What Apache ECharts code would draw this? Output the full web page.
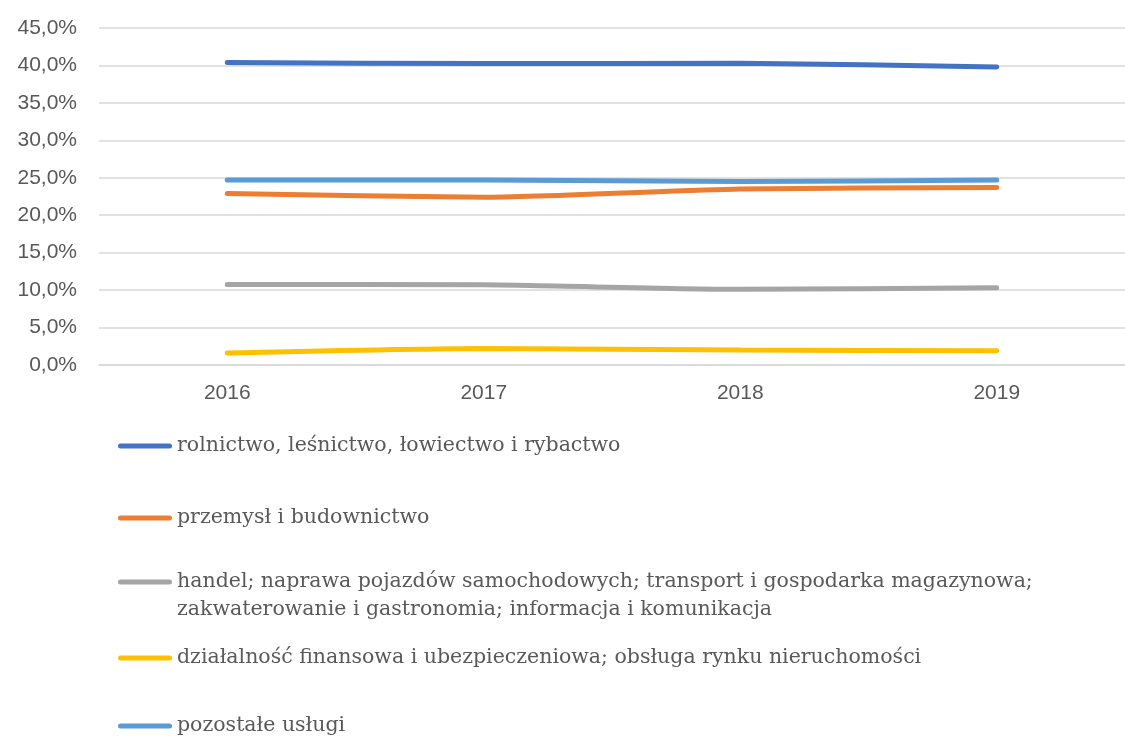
<!DOCTYPE html>
<html>
<head>
<meta charset="utf-8">
<script src="https://cdn.jsdelivr.net/npm/echarts@6/dist/echarts.min.js"></script>
<style>
  html, body { margin: 0; padding: 0; background: #fff; }
  #chart { width: 1125px; height: 736px; }
</style>
</head>
<body>
<div id="chart"></div>
<script>
const years = ['2016', '2017', '2018', '2019']
const seriesNames = [
  'rolnictwo, leśnictwo, łowiectwo i rybactwo',
  'przemysł i budownictwo',
  'handel; naprawa pojazdów samochodowych; transport i gospodarka magazynowa; zakwaterowanie i gastronomia; informacja i komunikacja',
  'działalność finansowa i ubezpieczeniowa; obsługa rynku nieruchomości',
  'pozostałe usługi'
]
const rolnictwo = [40.4, 40.25, 40.3, 39.8]
const przemysl = [22.9, 22.4, 23.5, 23.7]
const handel = [10.75, 10.7, 10.1, 10.3]
const finanse = [1.6, 2.2, 2.0, 1.9]
const pozostale = [24.7, 24.7, 24.5, 24.7]
const colors = ['#4472C4', '#ED7D31', '#A5A5A5', '#FFC000', '#5B9BD5']

const allValues = [rolnictwo, przemysl, handel, finanse, pozostale]
// top of each legend row
const legendTops = [432, 504, 568, 644, 712]

const chart = echarts.init(document.getElementById('chart'))

const legendText = {
  fontFamily: 'DejaVu Serif',
  fontSize: 20.5,
  color: '#595959',
  lineHeight: 28
}

// line icon with rounded ends
const lineIcon = 'path://M2.5,0h49a2.5,2.5 0 0 1 0,5h-49a2.5,2.5 0 0 1 0,-5z'
// same line, but box is taller so the text's first row lines up with it
const tallIcon = 'path://M2.5,0h49a2.5,2.5 0 0 1 0,5h-49a2.5,2.5 0 0 1 0,-5z M0,33 L0.01,33'

const legends = seriesNames.map((name, i) => ({
  data: [name],
  left: 118,
  top: legendTops[i],
  padding: 0,
  icon: i === 2 ? tallIcon : lineIcon,
  itemWidth: 54,
  itemHeight: i === 2 ? 33 : 5,
  selectedMode: false,
  textStyle: legendText,
  formatter: n => (i === 2
    ? 'handel; naprawa pojazdów samochodowych; transport i gospodarka magazynowa;\nzakwaterowanie i gastronomia; informacja i komunikacja'
    : n)
}))

chart.setOption({
  animation: false,
  color: colors,
  grid: {
    left: 99,
    right: -11,
    top: 28,
    bottom: 371,
    containLabel: false
  },
  legend: legends,
  xAxis: {
    type: 'category',
    data: years,
    boundaryGap: true,
    axisLine: { lineStyle: { color: '#d9d9d9', width: 1.5 } },
    axisTick: { show: false },
    axisLabel: {
      margin: 18,
      fontFamily: 'Liberation Sans',
      fontSize: 21,
      color: '#595959'
    }
  },
  yAxis: {
    type: 'value',
    min: 0,
    max: 45,
    interval: 5,
    axisLine: { show: false },
    axisTick: { show: false },
    splitLine: { lineStyle: { color: '#d9d9d9', width: 1.5 } },
    axisLabel: {
      margin: 22,
      fontFamily: 'Liberation Sans',
      fontSize: 21,
      color: '#595959',
      formatter: v => v.toFixed(1).replace('.', ',') + '%'
    }
  },
  series: seriesNames.map((name, i) => ({
    name: name,
    type: 'line',
    data: allValues[i],
    smooth: 0.2,
    symbol: 'none',
    lineStyle: { width: 5, cap: 'round', color: colors[i] },
    itemStyle: { color: colors[i] }
  }))
})
</script>
</body>
</html>
